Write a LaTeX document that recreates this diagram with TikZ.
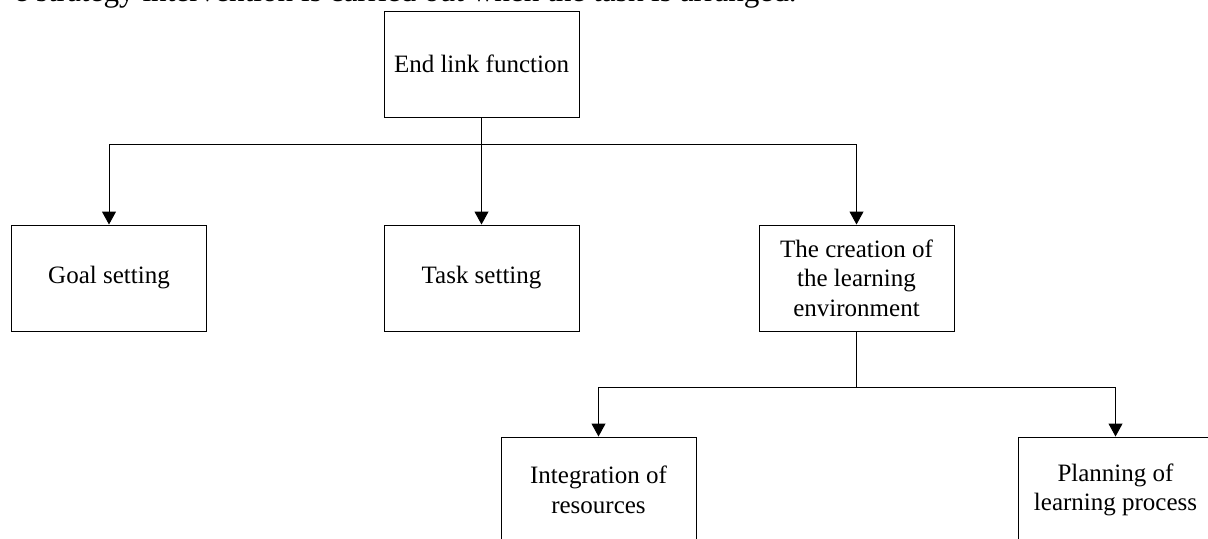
\documentclass[tikz,border=0pt]{standalone}
\usepackage{fontspec}
\setmainfont{Liberation Serif}
\usetikzlibrary{arrows.meta}
\tikzset{
    box/.style={draw, line width=0.5pt, minimum width=97.5pt, minimum height=53pt,
        align=center, inner sep=2pt, font=\fontsize{12.5}{14.75}\selectfont},
    arrow/.style={line width=0.5pt, -{Triangle[length=6.5pt,width=7pt]}},
    link/.style={line width=0.5pt}
}
\begin{document}
\begin{tikzpicture}[x=0.5pt,y=-0.5pt]
    \useasboundingbox (0,0) rectangle (1208,538);
    \clip (0,0) rectangle (1208,538);
    % Running text above the chart
    \node[anchor=base east, inner sep=0pt, font=\fontsize{15.6}{18}\selectfont] (caption) at (797,1.5)
        {e strategy intervention is carried out when the task is arranged.};
    % Boxes
    \node[box] (endlink) at (481.5,64) {End link function};
    \node[box] (goal) at (109,278) {Goal setting};
    \node[box] (task) at (481.5,278) {Task setting};
    \node[box] (creation) at (856.5,278) {The creation of\\the learning\\environment};
    \node[box] (integration) at (598.5,490) {Integration of\\resources};
    \node[box] (planning) at (1115.5,490) {Planning of\\learning process};
    % Branch points
    \coordinate (split) at (481.5,144);
    \coordinate (subsplit) at (856.5,387);
    % Connectors
    \draw[arrow] (endlink) -- (task);
    \draw[arrow] (split) -| (goal.north);
    \draw[arrow] (split) -| (creation.north);
    \draw[link] (creation.south) -- (subsplit);
    \draw[arrow] (subsplit) -| (integration.north);
    \draw[arrow] (subsplit) -| (planning.north);
\end{tikzpicture}
\end{document}
